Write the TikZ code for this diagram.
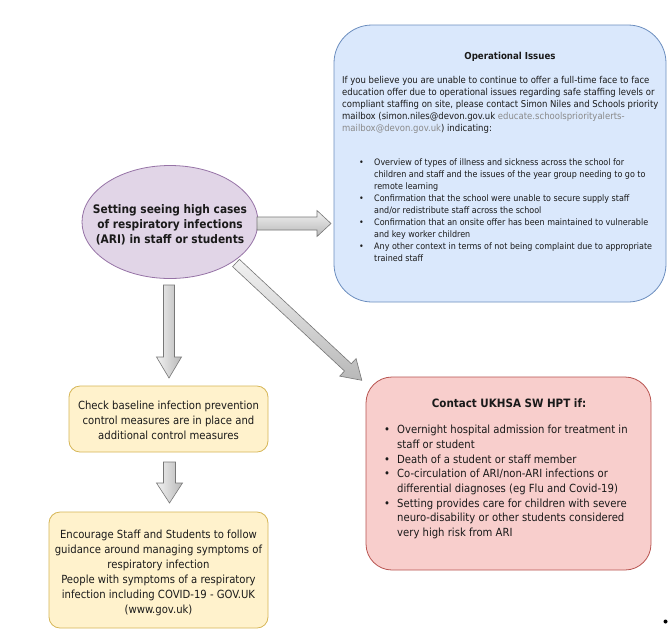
\documentclass[tikz,border=0pt]{standalone}
\usepackage{fontspec}
\setmainfont{DejaVu Sans Condensed}
\usetikzlibrary{shapes.geometric}
\definecolor{bluefill}{HTML}{DAE8FC}
\definecolor{blueline}{HTML}{6C8EBF}
\definecolor{redfill}{HTML}{F8CECC}
\definecolor{redline}{HTML}{B85450}
\definecolor{yelfill}{HTML}{FFF2CC}
\definecolor{yelline}{HTML}{D6B656}
\definecolor{purfill}{HTML}{E1D5E7}
\definecolor{purline}{HTML}{9673A6}
\definecolor{arrline}{HTML}{777777}
\definecolor{arrlight}{HTML}{F2F2F2}
\definecolor{arrdark}{HTML}{B8B8B8}
\definecolor{linkgray}{HTML}{8A8A8A}
\definecolor{txt}{HTML}{1A1A1A}
\tikzset{
  boxstyle/.style={draw, line width=0.8pt, inner sep=0pt},
  bluebox/.style={boxstyle, fill=bluefill, draw=blueline, rounded corners=38pt},
  redbox/.style={boxstyle, fill=redfill, draw=redline, rounded corners=26pt},
  yelbox/.style={boxstyle, fill=yelfill, draw=yelline, rounded corners=11pt},
  blockarrow/.style={draw=arrline, line width=0.6pt},
  txtstyle/.style={inner sep=0pt, text=txt}
}
\begin{document}
\begin{tikzpicture}[x=1pt,y=-1pt]
\useasboundingbox (0,0) rectangle (668,633);
\fill[white] (0,0) rectangle (668,633);

% boxes
\node[bluebox, minimum width=332pt, minimum height=277pt] (ops) at (500,163.5) {};
\node[redbox, minimum width=285pt, minimum height=193pt] (ukhsa) at (508.5,473.5) {};
\node[yelbox, minimum width=199pt, minimum height=66pt] (check) at (168.5,419) {};
\node[yelbox, minimum width=219pt, minimum height=116pt] (encourage) at (158.5,570) {};
\node[ellipse, draw=purline, fill=purfill, line width=0.8pt, minimum width=176pt, minimum height=113pt, inner sep=0pt] (setting) at (170,222) {};

% texts
\node[txtstyle, align=center, font=\fontsize{11.2}{15}\selectfont] (checktxt) at ([yshift=-1pt]check.center)
  {Check baseline infection prevention\\control measures are in place and\\additional control measures};
\node[txtstyle, align=center, font=\fontsize{11.2}{15}\selectfont] (encouragetxt) at ([yshift=-2.5pt]encourage.center)
  {Encourage Staff and Students to follow\\guidance around managing symptoms of\\respiratory infection\\People with symptoms of a respiratory\\infection including COVID-19 - GOV.UK\\(www.gov.uk)};
\node[txtstyle, align=center, font=\bfseries\fontsize{11.8}{15}\selectfont] (settingtxt) at ([yshift=-3pt]setting.center)
  {Setting seeing high cases\\of respiratory infections\\(ARI) in staff or students};

% texts in blue box
\node[txtstyle, font=\bfseries\fontsize{9.6}{12}\selectfont] (opstitle) at (510,57) {Operational Issues};
\node[txtstyle, anchor=north west, align=left, font=\fontsize{9.45}{12}\selectfont] (opstext) at (342,76)
  {If you believe you are unable to continue to offer a full-time face to face\\
   education offer due to operational issues regarding safe staffing levels or\\
   compliant staffing on site, please contact Simon Niles and Schools priority\\
   mailbox (simon.niles@devon.gov.uk {\color{linkgray}educate.schoolspriorityalerts-}\\
   {\color{linkgray}mailbox@devon.gov.uk}) indicating:};
\node[txtstyle, anchor=north west, align=left, font=\fontsize{8.9}{12}\selectfont] (opsbullets) at (359,159)
  {\makebox[15pt][l]{\textbullet}Overview of types of illness and sickness across the school for\\
   \hspace*{15pt}children and staff and the issues of the year group needing to go to\\
   \hspace*{15pt}remote learning\\
   \makebox[15pt][l]{\textbullet}Confirmation that the school were unable to secure supply staff\\
   \hspace*{15pt}and/or redistribute staff across the school\\
   \makebox[15pt][l]{\textbullet}Confirmation that an onsite offer has been maintained to vulnerable\\
   \hspace*{15pt}and key worker children\\
   \makebox[15pt][l]{\textbullet}Any other context in terms of not being complaint due to appropriate\\
   \hspace*{15pt}trained staff};

% texts in red box
\node[txtstyle, font=\bfseries\fontsize{11.5}{15}\selectfont] (ukhsatitle) at (509,403) {Contact UKHSA SW HPT if:};
\node[txtstyle, anchor=north west, align=left, font=\fontsize{11.2}{14.7}\selectfont] (ukhsatext) at (384,425)
  {\makebox[13pt][l]{\textbullet}Overnight hospital admission for treatment in\\
   \hspace*{13pt}staff or student\\
   \makebox[13pt][l]{\textbullet}Death of a student or staff member\\
   \makebox[13pt][l]{\textbullet}Co-circulation of ARI/non-ARI infections or\\
   \hspace*{13pt}differential diagnoses (eg Flu and Covid-19)\\
   \makebox[13pt][l]{\textbullet}Setting provides care for children with severe\\
   \hspace*{13pt}neuro-disability or other students considered\\
   \hspace*{13pt}very high risk from ARI};

% block arrows
\begin{scope}[shift={(257,223.5)}]
  \shade[blockarrow, top color=arrlight, bottom color=arrdark]
    (0,-6.5) -- (60,-6.5) -- (60,-13) -- (74,0) -- (60,13) -- (60,6.5) -- (0,6.5) -- cycle;
\end{scope}
\begin{scope}[shift={(169,285)}]
  \shade[blockarrow, left color=arrlight, right color=arrdark]
    (-5.5,0) -- (5.5,0) -- (5.5,72) -- (12.5,72) -- (0,93) -- (-12.5,72) -- (-5.5,72) -- cycle;
\end{scope}
\begin{scope}[shift={(169.5,462)}]
  \shade[blockarrow, left color=arrlight, right color=arrdark]
    (-6,0) -- (6,0) -- (6,21) -- (13,21) -- (0,41) -- (-13,21) -- (-6,21) -- cycle;
\end{scope}
\begin{scope}[shift={(236,263)}, rotate=-43]
  \shade[blockarrow, top color=arrlight, bottom color=arrdark]
    (0,-5) -- (153,-5) -- (153,-12) -- (172,0) -- (153,12) -- (153,5) -- (0,5) -- cycle;
\end{scope}

% stray dot
\fill[black] (665.5,621.5) circle (2pt);
\end{tikzpicture}
\end{document}
